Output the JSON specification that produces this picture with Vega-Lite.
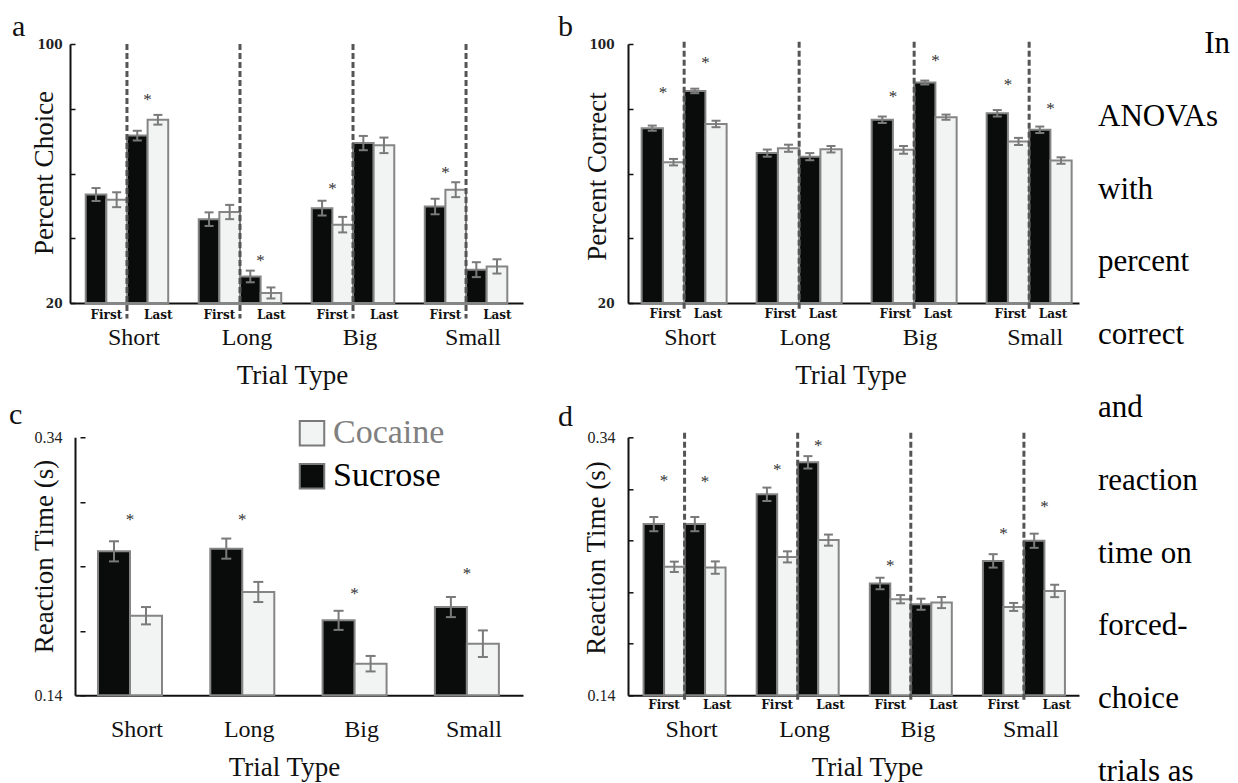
{
  "$schema": "https://vega.github.io/schema/vega-lite/v6.json",
  "background": "white",
  "padding": {"left": 9, "top": 12, "right": 4, "bottom": 0},
  "columns": 3,
  "spacing": {"row": 134.3, "column": 105},
  "bounds": "flush",
  "align": "each",
  "resolve": {"scale": {"color": "independent", "xOffset": "independent"}, "legend": {"color": "independent"}},
  "datasets": {
    "trials": [{"trial": "Short"}, {"trial": "Long"}, {"trial": "Big"}, {"trial": "Small"}],
    "choice": [
      {"trial": "Short", "phase": "First", "drug": "Sucrose", "grp": "First Sucrose", "mean": 53.5, "lo": 51.5, "hi": 55.5},
      {"trial": "Short", "phase": "First", "drug": "Cocaine", "grp": "First Cocaine", "mean": 51.9, "lo": 49.6, "hi": 54.2},
      {"trial": "Short", "phase": "Last", "drug": "Sucrose", "grp": "Last Sucrose", "mean": 71.7, "lo": 70.2, "hi": 73.2},
      {"trial": "Short", "phase": "Last", "drug": "Cocaine", "grp": "Last Cocaine", "mean": 76.6, "lo": 75.1, "hi": 78.1},
      {"trial": "Long", "phase": "First", "drug": "Sucrose", "grp": "First Sucrose", "mean": 45.9, "lo": 43.8, "hi": 48.0},
      {"trial": "Long", "phase": "First", "drug": "Cocaine", "grp": "First Cocaine", "mean": 48.1, "lo": 45.9, "hi": 50.3},
      {"trial": "Long", "phase": "Last", "drug": "Sucrose", "grp": "Last Sucrose", "mean": 28.2, "lo": 26.4, "hi": 30.0},
      {"trial": "Long", "phase": "Last", "drug": "Cocaine", "grp": "Last Cocaine", "mean": 23.1, "lo": 21.4, "hi": 24.8},
      {"trial": "Big", "phase": "First", "drug": "Sucrose", "grp": "First Sucrose", "mean": 49.3, "lo": 47.0, "hi": 51.6},
      {"trial": "Big", "phase": "First", "drug": "Cocaine", "grp": "First Cocaine", "mean": 44.2, "lo": 41.8, "hi": 46.6},
      {"trial": "Big", "phase": "Last", "drug": "Sucrose", "grp": "Last Sucrose", "mean": 69.4, "lo": 67.2, "hi": 71.6},
      {"trial": "Big", "phase": "Last", "drug": "Cocaine", "grp": "Last Cocaine", "mean": 68.7, "lo": 66.3, "hi": 71.1},
      {"trial": "Small", "phase": "First", "drug": "Sucrose", "grp": "First Sucrose", "mean": 49.8, "lo": 47.4, "hi": 52.2},
      {"trial": "Small", "phase": "First", "drug": "Cocaine", "grp": "First Cocaine", "mean": 55.0, "lo": 52.7, "hi": 57.3},
      {"trial": "Small", "phase": "Last", "drug": "Sucrose", "grp": "Last Sucrose", "mean": 30.3, "lo": 28.0, "hi": 32.6},
      {"trial": "Small", "phase": "Last", "drug": "Cocaine", "grp": "Last Cocaine", "mean": 31.3, "lo": 29.1, "hi": 33.5}
    ],
    "choiceStars": [
      {"trial": "Short", "phase": "Last", "star": 83.5},
      {"trial": "Long", "phase": "Last", "star": 33.9},
      {"trial": "Big", "phase": "First", "star": 56.0},
      {"trial": "Small", "phase": "First", "star": 61.2}
    ],
    "correct": [
      {"trial": "Short", "phase": "First", "drug": "Sucrose", "grp": "First Sucrose", "mean": 74.0, "lo": 73.2, "hi": 74.8},
      {"trial": "Short", "phase": "First", "drug": "Cocaine", "grp": "First Cocaine", "mean": 63.5, "lo": 62.5, "hi": 64.5},
      {"trial": "Short", "phase": "Last", "drug": "Sucrose", "grp": "Last Sucrose", "mean": 85.5, "lo": 84.8, "hi": 86.2},
      {"trial": "Short", "phase": "Last", "drug": "Cocaine", "grp": "Last Cocaine", "mean": 75.3, "lo": 74.3, "hi": 76.3},
      {"trial": "Long", "phase": "First", "drug": "Sucrose", "grp": "First Sucrose", "mean": 66.3, "lo": 65.2, "hi": 67.4},
      {"trial": "Long", "phase": "First", "drug": "Cocaine", "grp": "First Cocaine", "mean": 67.8, "lo": 66.7, "hi": 68.9},
      {"trial": "Long", "phase": "Last", "drug": "Sucrose", "grp": "Last Sucrose", "mean": 65.2, "lo": 64.1, "hi": 66.3},
      {"trial": "Long", "phase": "Last", "drug": "Cocaine", "grp": "Last Cocaine", "mean": 67.5, "lo": 66.5, "hi": 68.5},
      {"trial": "Big", "phase": "First", "drug": "Sucrose", "grp": "First Sucrose", "mean": 76.6, "lo": 75.6, "hi": 77.6},
      {"trial": "Big", "phase": "First", "drug": "Cocaine", "grp": "First Cocaine", "mean": 67.3, "lo": 66.1, "hi": 68.5},
      {"trial": "Big", "phase": "Last", "drug": "Sucrose", "grp": "Last Sucrose", "mean": 88.1, "lo": 87.5, "hi": 88.7},
      {"trial": "Big", "phase": "Last", "drug": "Cocaine", "grp": "Last Cocaine", "mean": 77.4, "lo": 76.6, "hi": 78.2},
      {"trial": "Small", "phase": "First", "drug": "Sucrose", "grp": "First Sucrose", "mean": 78.6, "lo": 77.6, "hi": 79.6},
      {"trial": "Small", "phase": "First", "drug": "Cocaine", "grp": "First Cocaine", "mean": 69.9, "lo": 68.8, "hi": 71.0},
      {"trial": "Small", "phase": "Last", "drug": "Sucrose", "grp": "Last Sucrose", "mean": 73.5, "lo": 72.5, "hi": 74.5},
      {"trial": "Small", "phase": "Last", "drug": "Cocaine", "grp": "Last Cocaine", "mean": 64.0, "lo": 63.0, "hi": 65.0}
    ],
    "correctStars": [
      {"trial": "Short", "phase": "First", "star": 85.8},
      {"trial": "Short", "phase": "Last", "star": 95.1},
      {"trial": "Big", "phase": "First", "star": 84.5},
      {"trial": "Big", "phase": "Last", "star": 95.6},
      {"trial": "Small", "phase": "First", "star": 88.2},
      {"trial": "Small", "phase": "Last", "star": 80.7}
    ],
    "rt": [
      {"trial": "Short", "drug": "Sucrose", "mean": 0.2516, "lo": 0.2438, "hi": 0.2594},
      {"trial": "Short", "drug": "Cocaine", "mean": 0.2017, "lo": 0.1950, "hi": 0.2084},
      {"trial": "Long", "drug": "Sucrose", "mean": 0.2537, "lo": 0.2459, "hi": 0.2615},
      {"trial": "Long", "drug": "Cocaine", "mean": 0.2201, "lo": 0.2123, "hi": 0.2279},
      {"trial": "Big", "drug": "Sucrose", "mean": 0.1981, "lo": 0.1907, "hi": 0.2055},
      {"trial": "Big", "drug": "Cocaine", "mean": 0.1645, "lo": 0.1585, "hi": 0.1705},
      {"trial": "Small", "drug": "Sucrose", "mean": 0.2084, "lo": 0.2006, "hi": 0.2162},
      {"trial": "Small", "drug": "Cocaine", "mean": 0.1800, "lo": 0.1697, "hi": 0.1903}
    ],
    "rtStars": [
      {"trial": "Short", "star": 0.2782},
      {"trial": "Long", "star": 0.2782},
      {"trial": "Big", "star": 0.2206},
      {"trial": "Small", "star": 0.2364}
    ],
    "rtPhase": [
      {"trial": "Short", "phase": "First", "drug": "Sucrose", "grp": "First Sucrose", "mean": 0.2727, "lo": 0.2672, "hi": 0.2782},
      {"trial": "Short", "phase": "First", "drug": "Cocaine", "grp": "First Cocaine", "mean": 0.2396, "lo": 0.2356, "hi": 0.2436},
      {"trial": "Short", "phase": "Last", "drug": "Sucrose", "grp": "Last Sucrose", "mean": 0.2727, "lo": 0.2672, "hi": 0.2782},
      {"trial": "Short", "phase": "Last", "drug": "Cocaine", "grp": "Last Cocaine", "mean": 0.2390, "lo": 0.2342, "hi": 0.2438},
      {"trial": "Long", "phase": "First", "drug": "Sucrose", "grp": "First Sucrose", "mean": 0.2958, "lo": 0.2906, "hi": 0.3010},
      {"trial": "Long", "phase": "First", "drug": "Cocaine", "grp": "First Cocaine", "mean": 0.2473, "lo": 0.2430, "hi": 0.2516},
      {"trial": "Long", "phase": "Last", "drug": "Sucrose", "grp": "Last Sucrose", "mean": 0.3206, "lo": 0.3158, "hi": 0.3254},
      {"trial": "Long", "phase": "Last", "drug": "Cocaine", "grp": "Last Cocaine", "mean": 0.2603, "lo": 0.2560, "hi": 0.2646},
      {"trial": "Big", "phase": "First", "drug": "Sucrose", "grp": "First Sucrose", "mean": 0.2267, "lo": 0.2222, "hi": 0.2312},
      {"trial": "Big", "phase": "First", "drug": "Cocaine", "grp": "First Cocaine", "mean": 0.2145, "lo": 0.2113, "hi": 0.2177},
      {"trial": "Big", "phase": "Last", "drug": "Sucrose", "grp": "Last Sucrose", "mean": 0.2106, "lo": 0.2063, "hi": 0.2149},
      {"trial": "Big", "phase": "Last", "drug": "Cocaine", "grp": "Last Cocaine", "mean": 0.2119, "lo": 0.2076, "hi": 0.2162},
      {"trial": "Small", "phase": "First", "drug": "Sucrose", "grp": "First Sucrose", "mean": 0.2442, "lo": 0.2390, "hi": 0.2494},
      {"trial": "Small", "phase": "First", "drug": "Cocaine", "grp": "First Cocaine", "mean": 0.2085, "lo": 0.2054, "hi": 0.2116},
      {"trial": "Small", "phase": "Last", "drug": "Sucrose", "grp": "Last Sucrose", "mean": 0.2598, "lo": 0.2543, "hi": 0.2653},
      {"trial": "Small", "phase": "Last", "drug": "Cocaine", "grp": "Last Cocaine", "mean": 0.2209, "lo": 0.2161, "hi": 0.2257}
    ],
    "rtPhaseStars": [
      {"trial": "Short", "phase": "First", "star": 0.3087},
      {"trial": "Short", "phase": "Last", "star": 0.3076},
      {"trial": "Long", "phase": "First", "star": 0.3172},
      {"trial": "Long", "phase": "Last", "star": 0.3358},
      {"trial": "Big", "phase": "First", "star": 0.2427},
      {"trial": "Small", "phase": "First", "star": 0.2673},
      {"trial": "Small", "phase": "Last", "star": 0.2880}
    ],
    "words": [
      {"row": 1, "word": "In"},
      {"row": 2, "word": "ANOVAs"},
      {"row": 3, "word": "with"},
      {"row": 4, "word": "percent"},
      {"row": 5, "word": "correct"},
      {"row": 6, "word": "and"},
      {"row": 7, "word": "reaction"},
      {"row": 8, "word": "time on"},
      {"row": 9, "word": "forced-"},
      {"row": 10, "word": "choice"},
      {"row": 11, "word": "trials as"}
    ]
  },
  "concat": [
    {
      "width": 453,
      "height": 259,
      "title": {"text": "a", "anchor": "start", "frame": "group", "dx": -58, "offset": -28, "baseline": "alphabetic", "fontSize": 30, "fontWeight": "normal", "font": "Liberation Serif", "color": "#111"},
      "layer": [
        {
          "data": {"name": "choice"},
          "mark": {"type": "bar", "stroke": "#858585", "strokeWidth": 2},
          "encoding": {
            "x": {"field": "trial", "type": "nominal", "scale": {"domain": ["Short", "Long", "Big", "Small"], "paddingInner": 0.27, "paddingOuter": 0.139, "align": 0.5},
              "axis": {"title": "Trial Type", "titleX": 222, "titleY": 80, "titleAlign": "center", "titleBaseline": "alphabetic", "titleFont": "Liberation Serif", "titleFontSize": 27, "titleFontWeight": "normal", "titleColor": "#111", "labelAngle": 0, "labelPadding": 41.5, "labelBaseline": "alphabetic", "labelOffset": 7, "labelFont": "Liberation Serif", "labelFontSize": 24, "labelColor": "#111", "ticks": false, "tickSize": 0, "domain": true, "domainColor": "#111", "domainWidth": 2}},
            "xOffset": {"field": "grp", "type": "nominal", "scale": {"domain": ["First Sucrose", "First Cocaine", "Last Sucrose", "Last Cocaine"], "paddingInner": 0, "paddingOuter": 0}},
            "y": {"field": "mean", "type": "quantitative", "scale": {"domain": [20, 100], "nice": false, "zero": false},
              "axis": {"title": "Percent Choice", "values": [20, 30, 40, 50, 60, 70, 80, 90, 100], "labelExpr": "datum.value == 20 || datum.value == 100 ? datum.label : ''", "labelFont": "DejaVu Serif", "labelFontWeight": "bold", "labelFontSize": 12, "labelColor": "#222", "labelPadding": 8, "ticks": false, "grid": true, "gridColor": "#111", "gridWidth": 1.5, "gridDash": [5, 2000], "domain": true, "domainColor": "#111", "domainWidth": 2, "titleX": -18, "titleY": 128.5, "titleAngle": -90, "titleAlign": "center", "titleBaseline": "alphabetic", "titleFont": "Liberation Serif", "titleFontSize": 27, "titleFontWeight": "normal", "titleColor": "#111"}},
            "y2": {"datum": 20},
            "color": {"field": "drug", "type": "nominal", "scale": {"domain": ["Cocaine", "Sucrose"], "range": ["#f2f3f3", "#0a0c0c"]}, "legend": null}
          }
        },
        {
          "data": {"name": "choice"},
          "mark": {"type": "rule", "color": "#7a7a7a", "strokeWidth": 2},
          "encoding": {
            "x": {"field": "trial", "type": "nominal", "scale": {"domain": ["Short", "Long", "Big", "Small"]}},
            "xOffset": {"field": "grp", "type": "nominal", "scale": {"domain": ["First Sucrose", "First Cocaine", "Last Sucrose", "Last Cocaine"]}},
            "y": {"field": "lo", "type": "quantitative", "scale": {"domain": [20, 100]}},
            "y2": {"field": "hi"}
          }
        },
        {
          "data": {"name": "choice"},
          "mark": {"type": "tick", "orient": "horizontal", "size": 9, "thickness": 2, "color": "#7a7a7a", "opacity": 1},
          "encoding": {
            "x": {"field": "trial", "type": "nominal", "scale": {"domain": ["Short", "Long", "Big", "Small"]}},
            "xOffset": {"field": "grp", "type": "nominal", "scale": {"domain": ["First Sucrose", "First Cocaine", "Last Sucrose", "Last Cocaine"]}},
            "y": {"field": "lo", "type": "quantitative", "scale": {"domain": [20, 100]}}
          }
        },
        {
          "data": {"name": "choice"},
          "mark": {"type": "tick", "orient": "horizontal", "size": 9, "thickness": 2, "color": "#7a7a7a", "opacity": 1},
          "encoding": {
            "x": {"field": "trial", "type": "nominal", "scale": {"domain": ["Short", "Long", "Big", "Small"]}},
            "xOffset": {"field": "grp", "type": "nominal", "scale": {"domain": ["First Sucrose", "First Cocaine", "Last Sucrose", "Last Cocaine"]}},
            "y": {"field": "hi", "type": "quantitative", "scale": {"domain": [20, 100]}}
          }
        },
        {
          "data": {"name": "trials"},
          "mark": {"type": "rule", "color": "#555555", "strokeWidth": 3, "strokeDash": [6, 3]},
          "encoding": {
            "x": {"field": "trial", "type": "nominal", "scale": {"domain": ["Short", "Long", "Big", "Small"]}},
            "y": {"datum": 100, "scale": {"domain": [20, 100]}},
            "y2": {"datum": 15.2}
          }
        },
        {
          "data": {"name": "trials"},
          "mark": {"type": "text", "font": "DejaVu Serif", "fontWeight": "bold", "fontSize": 12, "color": "#111", "baseline": "alphabetic", "dy": 16},
          "encoding": {
            "x": {"field": "trial", "type": "nominal", "bandPosition": 0.25, "scale": {"domain": ["Short", "Long", "Big", "Small"]}},
            "y": {"datum": 20, "scale": {"domain": [20, 100]}},
            "text": {"value": "First"}
          }
        },
        {
          "data": {"name": "trials"},
          "mark": {"type": "text", "font": "DejaVu Serif", "fontWeight": "bold", "fontSize": 12, "color": "#111", "baseline": "alphabetic", "dy": 16},
          "encoding": {
            "x": {"field": "trial", "type": "nominal", "bandPosition": 0.88, "scale": {"domain": ["Short", "Long", "Big", "Small"]}},
            "y": {"datum": 20, "scale": {"domain": [20, 100]}},
            "text": {"value": "Last"}
          }
        },
        {
          "data": {"name": "choiceStars"},
          "transform": [{"filter": "datum.phase == 'First'"}],
          "mark": {"type": "text", "font": "Liberation Serif", "fontSize": 17, "color": "#333", "baseline": "alphabetic", "dy": 8},
          "encoding": {
            "x": {"field": "trial", "type": "nominal", "bandPosition": 0.25, "scale": {"domain": ["Short", "Long", "Big", "Small"]}},
            "y": {"field": "star", "type": "quantitative", "scale": {"domain": [20, 100]}},
            "text": {"value": "*"}
          }
        },
        {
          "data": {"name": "choiceStars"},
          "transform": [{"filter": "datum.phase == 'Last'"}],
          "mark": {"type": "text", "font": "Liberation Serif", "fontSize": 17, "color": "#333", "baseline": "alphabetic", "dy": 8},
          "encoding": {
            "x": {"field": "trial", "type": "nominal", "bandPosition": 0.75, "scale": {"domain": ["Short", "Long", "Big", "Small"]}},
            "y": {"field": "star", "type": "quantitative", "scale": {"domain": [20, 100]}},
            "text": {"value": "*"}
          }
        }
      ]
    },
    {
      "width": 451,
      "height": 259,
      "title": {"text": "b", "anchor": "start", "frame": "group", "dx": -70, "offset": -28, "baseline": "alphabetic", "fontSize": 30, "fontWeight": "normal", "font": "Liberation Serif", "color": "#111"},
      "layer": [
        {
          "data": {"name": "correct"},
          "mark": {"type": "bar", "stroke": "#858585", "strokeWidth": 2},
          "encoding": {
            "x": {"field": "trial", "type": "nominal", "scale": {"domain": ["Short", "Long", "Big", "Small"], "paddingInner": 0.261, "paddingOuter": 0.0913, "align": 0.65},
              "axis": {"title": "Trial Type", "titleX": 222.5, "titleY": 80, "titleAlign": "center", "titleBaseline": "alphabetic", "titleFont": "Liberation Serif", "titleFontSize": 27, "titleFontWeight": "normal", "titleColor": "#111", "labelAngle": 0, "labelPadding": 41.5, "labelBaseline": "alphabetic", "labelOffset": 6, "labelFont": "Liberation Serif", "labelFontSize": 24, "labelColor": "#111", "ticks": false, "tickSize": 0, "domain": true, "domainColor": "#111", "domainWidth": 2}},
            "xOffset": {"field": "grp", "type": "nominal", "scale": {"domain": ["First Sucrose", "First Cocaine", "Last Sucrose", "Last Cocaine"], "paddingInner": 0, "paddingOuter": 0}},
            "y": {"field": "mean", "type": "quantitative", "scale": {"domain": [20, 100], "nice": false, "zero": false},
              "axis": {"title": "Percent Correct", "values": [20, 30, 40, 50, 60, 70, 80, 90, 100], "labelExpr": "datum.value == 20 || datum.value == 100 ? datum.label : ''", "labelFont": "DejaVu Serif", "labelFontWeight": "bold", "labelFontSize": 12, "labelColor": "#222", "labelPadding": 14, "ticks": false, "grid": true, "gridColor": "#111", "gridWidth": 1.5, "gridDash": [5, 2000], "domain": true, "domainColor": "#111", "domainWidth": 2, "titleX": -23, "titleY": 132, "titleAngle": -90, "titleAlign": "center", "titleBaseline": "alphabetic", "titleFont": "Liberation Serif", "titleFontSize": 27, "titleFontWeight": "normal", "titleColor": "#111"}},
            "y2": {"datum": 20},
            "color": {"field": "drug", "type": "nominal", "scale": {"domain": ["Cocaine", "Sucrose"], "range": ["#f2f3f3", "#0a0c0c"]}, "legend": null}
          }
        },
        {
          "data": {"name": "correct"},
          "mark": {"type": "rule", "color": "#7a7a7a", "strokeWidth": 2},
          "encoding": {
            "x": {"field": "trial", "type": "nominal", "scale": {"domain": ["Short", "Long", "Big", "Small"]}},
            "xOffset": {"field": "grp", "type": "nominal", "scale": {"domain": ["First Sucrose", "First Cocaine", "Last Sucrose", "Last Cocaine"]}},
            "y": {"field": "lo", "type": "quantitative", "scale": {"domain": [20, 100]}},
            "y2": {"field": "hi"}
          }
        },
        {
          "data": {"name": "correct"},
          "mark": {"type": "tick", "orient": "horizontal", "size": 9, "thickness": 2, "color": "#7a7a7a", "opacity": 1},
          "encoding": {
            "x": {"field": "trial", "type": "nominal", "scale": {"domain": ["Short", "Long", "Big", "Small"]}},
            "xOffset": {"field": "grp", "type": "nominal", "scale": {"domain": ["First Sucrose", "First Cocaine", "Last Sucrose", "Last Cocaine"]}},
            "y": {"field": "lo", "type": "quantitative", "scale": {"domain": [20, 100]}}
          }
        },
        {
          "data": {"name": "correct"},
          "mark": {"type": "tick", "orient": "horizontal", "size": 9, "thickness": 2, "color": "#7a7a7a", "opacity": 1},
          "encoding": {
            "x": {"field": "trial", "type": "nominal", "scale": {"domain": ["Short", "Long", "Big", "Small"]}},
            "xOffset": {"field": "grp", "type": "nominal", "scale": {"domain": ["First Sucrose", "First Cocaine", "Last Sucrose", "Last Cocaine"]}},
            "y": {"field": "hi", "type": "quantitative", "scale": {"domain": [20, 100]}}
          }
        },
        {
          "data": {"name": "trials"},
          "mark": {"type": "rule", "color": "#555555", "strokeWidth": 3, "strokeDash": [6, 3]},
          "encoding": {
            "x": {"field": "trial", "type": "nominal", "scale": {"domain": ["Short", "Long", "Big", "Small"]}},
            "y": {"datum": 100.7, "scale": {"domain": [20, 100]}},
            "y2": {"datum": 18.0}
          }
        },
        {
          "data": {"name": "trials"},
          "mark": {"type": "text", "font": "DejaVu Serif", "fontWeight": "bold", "fontSize": 12, "color": "#111", "baseline": "alphabetic", "dy": 15},
          "encoding": {
            "x": {"field": "trial", "type": "nominal", "bandPosition": 0.28, "scale": {"domain": ["Short", "Long", "Big", "Small"]}},
            "y": {"datum": 20, "scale": {"domain": [20, 100]}},
            "text": {"value": "First"}
          }
        },
        {
          "data": {"name": "trials"},
          "mark": {"type": "text", "font": "DejaVu Serif", "fontWeight": "bold", "fontSize": 12, "color": "#111", "baseline": "alphabetic", "dy": 15},
          "encoding": {
            "x": {"field": "trial", "type": "nominal", "bandPosition": 0.78, "scale": {"domain": ["Short", "Long", "Big", "Small"]}},
            "y": {"datum": 20, "scale": {"domain": [20, 100]}},
            "text": {"value": "Last"}
          }
        },
        {
          "data": {"name": "correctStars"},
          "transform": [{"filter": "datum.phase == 'First'"}],
          "mark": {"type": "text", "font": "Liberation Serif", "fontSize": 17, "color": "#333", "baseline": "alphabetic", "dy": 8},
          "encoding": {
            "x": {"field": "trial", "type": "nominal", "bandPosition": 0.25, "scale": {"domain": ["Short", "Long", "Big", "Small"]}},
            "y": {"field": "star", "type": "quantitative", "scale": {"domain": [20, 100]}},
            "text": {"value": "*"}
          }
        },
        {
          "data": {"name": "correctStars"},
          "transform": [{"filter": "datum.phase == 'Last'"}],
          "mark": {"type": "text", "font": "Liberation Serif", "fontSize": 17, "color": "#333", "baseline": "alphabetic", "dy": 8},
          "encoding": {
            "x": {"field": "trial", "type": "nominal", "bandPosition": 0.75, "scale": {"domain": ["Short", "Long", "Big", "Small"]}},
            "y": {"field": "star", "type": "quantitative", "scale": {"domain": [20, 100]}},
            "text": {"value": "*"}
          }
        }
      ]
    },
    {
      "width": 46,
      "height": 259,
      "data": {"name": "words"},
      "layer": [
        {
          "transform": [{"filter": "datum.row > 1"}],
          "mark": {"type": "text", "align": "left", "baseline": "middle", "font": "Liberation Serif", "fontSize": 31, "color": "#000"},
          "encoding": {
            "x": {"datum": 0, "type": "quantitative", "scale": {"domain": [0, 1], "range": [-86, 46]}, "axis": null},
            "y": {"field": "row", "type": "quantitative", "scale": {"domain": [1.0, 4.5577], "reverse": true, "nice": false, "zero": false}, "axis": null},
            "text": {"field": "word"}
          }
        },
        {
          "transform": [{"filter": "datum.row == 1"}],
          "mark": {"type": "text", "align": "right", "baseline": "middle", "font": "Liberation Serif", "fontSize": 31, "color": "#000"},
          "encoding": {
            "x": {"datum": 1, "type": "quantitative", "scale": {"domain": [0, 1], "range": [-86, 46]}, "axis": null},
            "y": {"field": "row", "type": "quantitative", "scale": {"domain": [1.0, 4.5577], "reverse": true, "nice": false, "zero": false}, "axis": null},
            "text": {"field": "word"}
          }
        }
      ]
    },
    {
      "width": 453,
      "height": 258,
      "title": {"text": "c", "anchor": "start", "frame": "group", "dx": -61, "offset": -38, "baseline": "alphabetic", "fontSize": 30, "fontWeight": "normal", "font": "Liberation Serif", "color": "#111"},
      "layer": [
        {
          "data": {"name": "rt"},
          "mark": {"type": "bar", "stroke": "#858585", "strokeWidth": 2},
          "encoding": {
            "x": {"field": "trial", "type": "nominal", "scale": {"domain": ["Short", "Long", "Big", "Small"], "range": [5, 453], "paddingInner": 0.43, "paddingOuter": 0.2097, "align": 0.488},
              "axis": {"title": "Trial Type", "titleX": 214, "titleY": 80, "titleAlign": "center", "titleBaseline": "alphabetic", "titleFont": "Liberation Serif", "titleFontSize": 27, "titleFontWeight": "normal", "titleColor": "#111", "labelAngle": 0, "labelPadding": 41.5, "labelBaseline": "alphabetic", "labelOffset": 7, "labelFont": "Liberation Serif", "labelFontSize": 24, "labelColor": "#111", "ticks": false, "tickSize": 0, "domain": true, "domainColor": "#111", "domainWidth": 2}},
            "xOffset": {"field": "drug", "type": "nominal", "scale": {"domain": ["Sucrose", "Cocaine"], "paddingInner": 0, "paddingOuter": 0}},
            "y": {"field": "mean", "type": "quantitative", "scale": {"domain": [0.14, 0.34], "nice": false, "zero": false},
              "axis": {"title": "Reaction Time (s)", "offset": -5, "values": [0.14, 0.19, 0.24, 0.29, 0.34], "labelExpr": "abs(datum.value - 0.14) < 0.0001 || abs(datum.value - 0.34) < 0.0001 ? format(datum.value, '.2f') : ''", "labelFont": "Liberation Serif", "labelFontSize": 16, "labelColor": "#222", "labelPadding": 13, "ticks": false, "grid": true, "gridColor": "#111", "gridWidth": 1.5, "gridDash": [0, 5, 5, 2000], "domain": true, "domainColor": "#111", "domainWidth": 2, "titleX": -23, "titleY": 118.7, "titleAngle": -90, "titleAlign": "center", "titleBaseline": "alphabetic", "titleFont": "Liberation Serif", "titleFontSize": 27, "titleFontWeight": "normal", "titleColor": "#111"}},
            "y2": {"datum": 0.14},
            "color": {"field": "drug", "type": "nominal", "scale": {"domain": ["Cocaine", "Sucrose"], "range": ["#f2f3f3", "#0a0c0c"]},
              "legend": {"orient": "none", "legendX": 225, "legendY": -21, "title": null, "padding": 0, "symbolType": "square", "symbolSize": 600, "symbolStrokeColor": "#7a7a7a", "symbolStrokeWidth": 2, "symbolOpacity": 1, "labelFont": "Liberation Serif", "labelFontSize": 34, "labelColor": {"expr": "datum.label == 'Cocaine' ? '#808080' : '#000000'"}, "labelOffset": 4, "rowPadding": 9, "labelLimit": 300}}
          }
        },
        {
          "data": {"name": "rt"},
          "mark": {"type": "rule", "color": "#7a7a7a", "strokeWidth": 2},
          "encoding": {
            "x": {"field": "trial", "type": "nominal", "scale": {"domain": ["Short", "Long", "Big", "Small"]}},
            "xOffset": {"field": "drug", "type": "nominal", "scale": {"domain": ["Sucrose", "Cocaine"]}},
            "y": {"field": "lo", "type": "quantitative", "scale": {"domain": [0.14, 0.34]}},
            "y2": {"field": "hi"}
          }
        },
        {
          "data": {"name": "rt"},
          "mark": {"type": "tick", "orient": "horizontal", "size": 10, "thickness": 2, "color": "#7a7a7a", "opacity": 1},
          "encoding": {
            "x": {"field": "trial", "type": "nominal", "scale": {"domain": ["Short", "Long", "Big", "Small"]}},
            "xOffset": {"field": "drug", "type": "nominal", "scale": {"domain": ["Sucrose", "Cocaine"]}},
            "y": {"field": "lo", "type": "quantitative", "scale": {"domain": [0.14, 0.34]}}
          }
        },
        {
          "data": {"name": "rt"},
          "mark": {"type": "tick", "orient": "horizontal", "size": 10, "thickness": 2, "color": "#7a7a7a", "opacity": 1},
          "encoding": {
            "x": {"field": "trial", "type": "nominal", "scale": {"domain": ["Short", "Long", "Big", "Small"]}},
            "xOffset": {"field": "drug", "type": "nominal", "scale": {"domain": ["Sucrose", "Cocaine"]}},
            "y": {"field": "hi", "type": "quantitative", "scale": {"domain": [0.14, 0.34]}}
          }
        },
        {
          "data": {"name": "rtStars"},
          "mark": {"type": "text", "font": "Liberation Serif", "fontSize": 17, "color": "#333", "baseline": "alphabetic", "dy": 8},
          "encoding": {
            "x": {"field": "trial", "type": "nominal", "scale": {"domain": ["Short", "Long", "Big", "Small"]}},
            "y": {"field": "star", "type": "quantitative", "scale": {"domain": [0.14, 0.34]}},
            "text": {"value": "*"}
          }
        }
      ]
    },
    {
      "width": 451,
      "height": 258,
      "title": {"text": "d", "anchor": "start", "frame": "group", "dx": -70, "offset": -27, "baseline": "alphabetic", "fontSize": 30, "fontWeight": "normal", "font": "Liberation Serif", "color": "#111"},
      "layer": [
        {
          "data": {"name": "rtPhase"},
          "mark": {"type": "bar", "stroke": "#858585", "strokeWidth": 2},
          "encoding": {
            "x": {"field": "trial", "type": "nominal", "scale": {"domain": ["Short", "Long", "Big", "Small"], "paddingInner": 0.275, "paddingOuter": 0.131, "align": 0.525},
              "axis": {"title": "Trial Type", "titleX": 239, "titleY": 80, "titleAlign": "center", "titleBaseline": "alphabetic", "titleFont": "Liberation Serif", "titleFontSize": 27, "titleFontWeight": "normal", "titleColor": "#111", "labelAngle": 0, "labelPadding": 41.5, "labelBaseline": "alphabetic", "labelOffset": 7, "labelFont": "Liberation Serif", "labelFontSize": 24, "labelColor": "#111", "ticks": false, "tickSize": 0, "domain": true, "domainColor": "#111", "domainWidth": 2}},
            "xOffset": {"field": "grp", "type": "nominal", "scale": {"domain": ["First Sucrose", "First Cocaine", "Last Sucrose", "Last Cocaine"], "paddingInner": 0, "paddingOuter": 0}},
            "y": {"field": "mean", "type": "quantitative", "scale": {"domain": [0.14, 0.34], "nice": false, "zero": false},
              "axis": {"title": "Reaction Time (s)", "values": [0.14, 0.16, 0.18, 0.2, 0.22, 0.24, 0.26, 0.28, 0.3, 0.32, 0.34], "labelExpr": "abs(datum.value - 0.14) < 0.0001 || abs(datum.value - 0.34) < 0.0001 ? format(datum.value, '.2f') : ''", "labelFont": "Liberation Serif", "labelFontSize": 16, "labelColor": "#222", "labelPadding": 13, "ticks": false, "grid": true, "gridColor": "#111", "gridWidth": 1.5, "gridDash": [5, 2000], "domain": true, "domainColor": "#111", "domainWidth": 2, "titleX": -23.5, "titleY": 120.2, "titleAngle": -90, "titleAlign": "center", "titleBaseline": "alphabetic", "titleFont": "Liberation Serif", "titleFontSize": 27, "titleFontWeight": "normal", "titleColor": "#111"}},
            "y2": {"datum": 0.14},
            "color": {"field": "drug", "type": "nominal", "scale": {"domain": ["Cocaine", "Sucrose"], "range": ["#f2f3f3", "#0a0c0c"]}, "legend": null}
          }
        },
        {
          "data": {"name": "rtPhase"},
          "mark": {"type": "rule", "color": "#7a7a7a", "strokeWidth": 2},
          "encoding": {
            "x": {"field": "trial", "type": "nominal", "scale": {"domain": ["Short", "Long", "Big", "Small"]}},
            "xOffset": {"field": "grp", "type": "nominal", "scale": {"domain": ["First Sucrose", "First Cocaine", "Last Sucrose", "Last Cocaine"]}},
            "y": {"field": "lo", "type": "quantitative", "scale": {"domain": [0.14, 0.34]}},
            "y2": {"field": "hi"}
          }
        },
        {
          "data": {"name": "rtPhase"},
          "mark": {"type": "tick", "orient": "horizontal", "size": 9, "thickness": 2, "color": "#7a7a7a", "opacity": 1},
          "encoding": {
            "x": {"field": "trial", "type": "nominal", "scale": {"domain": ["Short", "Long", "Big", "Small"]}},
            "xOffset": {"field": "grp", "type": "nominal", "scale": {"domain": ["First Sucrose", "First Cocaine", "Last Sucrose", "Last Cocaine"]}},
            "y": {"field": "lo", "type": "quantitative", "scale": {"domain": [0.14, 0.34]}}
          }
        },
        {
          "data": {"name": "rtPhase"},
          "mark": {"type": "tick", "orient": "horizontal", "size": 9, "thickness": 2, "color": "#7a7a7a", "opacity": 1},
          "encoding": {
            "x": {"field": "trial", "type": "nominal", "scale": {"domain": ["Short", "Long", "Big", "Small"]}},
            "xOffset": {"field": "grp", "type": "nominal", "scale": {"domain": ["First Sucrose", "First Cocaine", "Last Sucrose", "Last Cocaine"]}},
            "y": {"field": "hi", "type": "quantitative", "scale": {"domain": [0.14, 0.34]}}
          }
        },
        {
          "data": {"name": "trials"},
          "mark": {"type": "rule", "color": "#555555", "strokeWidth": 3, "strokeDash": [6, 3]},
          "encoding": {
            "x": {"field": "trial", "type": "nominal", "scale": {"domain": ["Short", "Long", "Big", "Small"]}},
            "y": {"datum": 0.3436, "scale": {"domain": [0.14, 0.34]}},
            "y2": {"datum": 0.1348}
          }
        },
        {
          "data": {"name": "trials"},
          "mark": {"type": "text", "font": "DejaVu Serif", "fontWeight": "bold", "fontSize": 12, "color": "#111", "baseline": "alphabetic", "dy": 14},
          "encoding": {
            "x": {"field": "trial", "type": "nominal", "bandPosition": 0.25, "scale": {"domain": ["Short", "Long", "Big", "Small"]}},
            "y": {"datum": 0.14, "scale": {"domain": [0.14, 0.34]}},
            "text": {"value": "First"}
          }
        },
        {
          "data": {"name": "trials"},
          "mark": {"type": "text", "font": "DejaVu Serif", "fontWeight": "bold", "fontSize": 12, "color": "#111", "baseline": "alphabetic", "dy": 14},
          "encoding": {
            "x": {"field": "trial", "type": "nominal", "bandPosition": 0.9, "scale": {"domain": ["Short", "Long", "Big", "Small"]}},
            "y": {"datum": 0.14, "scale": {"domain": [0.14, 0.34]}},
            "text": {"value": "Last"}
          }
        },
        {
          "data": {"name": "rtPhaseStars"},
          "transform": [{"filter": "datum.phase == 'First'"}],
          "mark": {"type": "text", "font": "Liberation Serif", "fontSize": 17, "color": "#333", "baseline": "alphabetic", "dy": 8},
          "encoding": {
            "x": {"field": "trial", "type": "nominal", "bandPosition": 0.25, "scale": {"domain": ["Short", "Long", "Big", "Small"]}},
            "y": {"field": "star", "type": "quantitative", "scale": {"domain": [0.14, 0.34]}},
            "text": {"value": "*"}
          }
        },
        {
          "data": {"name": "rtPhaseStars"},
          "transform": [{"filter": "datum.phase == 'Last'"}],
          "mark": {"type": "text", "font": "Liberation Serif", "fontSize": 17, "color": "#333", "baseline": "alphabetic", "dy": 8},
          "encoding": {
            "x": {"field": "trial", "type": "nominal", "bandPosition": 0.75, "scale": {"domain": ["Short", "Long", "Big", "Small"]}},
            "y": {"field": "star", "type": "quantitative", "scale": {"domain": [0.14, 0.34]}},
            "text": {"value": "*"}
          }
        }
      ]
    }
  ],
  "config": {
    "view": {"stroke": null},
    "font": "Liberation Serif"
  }
}
